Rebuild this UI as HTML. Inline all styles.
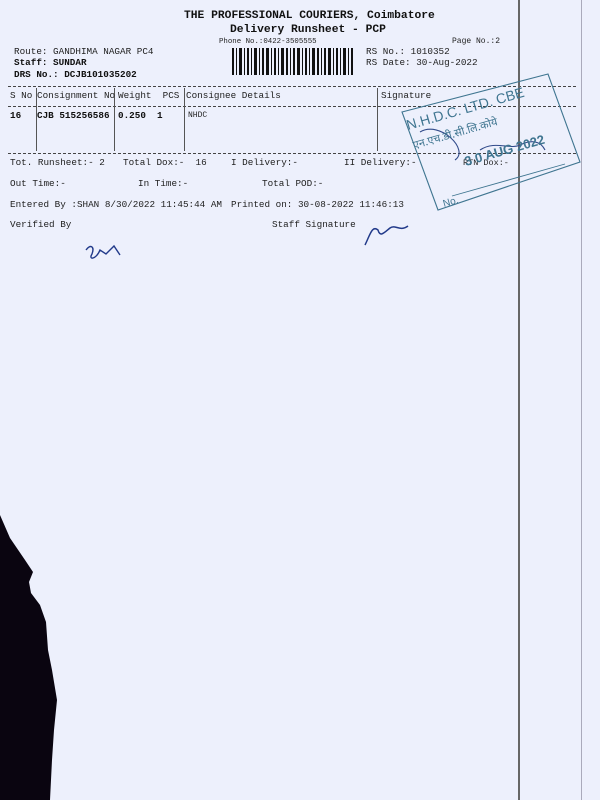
<!DOCTYPE html>
<html><head><meta charset="utf-8"><style>
html,body{margin:0;padding:0}
body{width:600px;height:800px;background:#edf0fc;position:relative;overflow:hidden;font-family:"Liberation Mono",monospace;color:#222}
.t{position:absolute;white-space:pre;font-size:9.3px;line-height:12px}
.b{font-weight:bold;color:#111}
.h{font-size:11.3px;line-height:14px}
.d{position:absolute;left:8px;width:568px;border-top:1px dashed #444;height:0}
.v{position:absolute;top:88px;height:63px;border-left:1px solid #555;width:0}
</style></head><body>
<div class="t b h" style="left:184px;top:9px">THE PROFESSIONAL COURIERS, Coimbatore</div>
<div class="t b h" style="left:230px;top:23px">Delivery Runsheet - PCP</div>
<div class="t" style="left:219px;top:36px;font-size:7.4px">Phone No.:0422-3505555</div>
<div class="t" style="left:452px;top:36px;font-size:8px">Page No.:2</div>
<div class="t" style="left:14px;top:46px">Route: GANDHIMA NAGAR PC4</div>
<div class="t b" style="left:14px;top:57px">Staff: SUNDAR</div>
<div class="t b" style="left:14px;top:69px">DRS No.: DCJB101035202</div>
<div class="t" style="left:366px;top:46px">RS No.: 1010352</div>
<div class="t" style="left:366px;top:57px">RS Date: 30-Aug-2022</div>
<svg style="position:absolute;left:232px;top:48px" width="122" height="27">
<g fill="#111">
<rect x="0" y="0" width="2" height="27"/><rect x="4" y="0" width="1" height="27"/><rect x="7" y="0" width="3" height="27"/><rect x="12" y="0" width="1" height="27"/><rect x="15" y="0" width="2" height="27"/><rect x="19" y="0" width="1" height="27"/><rect x="22" y="0" width="3" height="27"/><rect x="27" y="0" width="1" height="27"/><rect x="30" y="0" width="2" height="27"/><rect x="34" y="0" width="3" height="27"/><rect x="39" y="0" width="1" height="27"/><rect x="42" y="0" width="2" height="27"/><rect x="46" y="0" width="1" height="27"/><rect x="49" y="0" width="3" height="27"/><rect x="54" y="0" width="2" height="27"/><rect x="58" y="0" width="1" height="27"/><rect x="61" y="0" width="2" height="27"/><rect x="65" y="0" width="3" height="27"/><rect x="70" y="0" width="1" height="27"/><rect x="73" y="0" width="2" height="27"/><rect x="77" y="0" width="1" height="27"/><rect x="80" y="0" width="3" height="27"/><rect x="85" y="0" width="2" height="27"/><rect x="89" y="0" width="1" height="27"/><rect x="92" y="0" width="2" height="27"/><rect x="96" y="0" width="3" height="27"/><rect x="101" y="0" width="1" height="27"/><rect x="104" y="0" width="2" height="27"/><rect x="108" y="0" width="1" height="27"/><rect x="111" y="0" width="3" height="27"/><rect x="116" y="0" width="1" height="27"/><rect x="119" y="0" width="2" height="27"/>
</g></svg>
<div class="d" style="top:86px"></div>
<div class="d" style="top:106px"></div>
<div class="d" style="top:153px"></div>
<div class="v" style="left:36px"></div>
<div class="v" style="left:114px"></div>
<div class="v" style="left:184px"></div>
<div class="v" style="left:377px"></div>
<div class="t" style="left:10px;top:90px">S No</div>
<div class="t" style="left:37px;top:90px">Consignment No</div>
<div class="t" style="left:118px;top:90px">Weight  PCS</div>
<div class="t" style="left:186px;top:90px">Consignee Details</div>
<div class="t" style="left:381px;top:90px">Signature</div>
<div class="t b" style="left:10px;top:110px">16</div>
<div class="t b" style="left:37px;top:110px">CJB 515256586</div>
<div class="t b" style="left:118px;top:110px">0.250  1</div>
<div class="t" style="left:188px;top:110px;font-size:8px">NHDC</div>
<div class="t" style="left:10px;top:157px">Tot. Runsheet:- 2</div>
<div class="t" style="left:123px;top:157px">Total Dox:-  16</div>
<div class="t" style="left:231px;top:157px">I Delivery:-</div>
<div class="t" style="left:344px;top:157px">II Delivery:-</div>
<div class="t" style="left:463px;top:157px;font-size:8.5px">RTN Dox:-</div>
<div class="t" style="left:10px;top:178px">Out Time:-</div>
<div class="t" style="left:138px;top:178px">In Time:-</div>
<div class="t" style="left:262px;top:178px">Total POD:-</div>
<div class="t" style="left:10px;top:199px">Entered By :SHAN 8/30/2022 11:45:44 AM</div>
<div class="t" style="left:231px;top:199px">Printed on: 30-08-2022 11:46:13</div>
<div class="t" style="left:10px;top:219px">Verified By</div>
<div class="t" style="left:272px;top:219px">Staff Signature</div>
<div style="position:absolute;left:518px;top:0;width:2px;height:800px;background:#666"></div>
<div style="position:absolute;left:581px;top:0;width:1px;height:800px;background:#aab"></div>
<svg style="position:absolute;left:0;top:0" width="600" height="800">
<g fill="none" stroke="#3f7590" stroke-width="1.1">
<polygon points="402,112 548,74 580,162 438,210"/>
<path d="M452 196 L565 164" stroke-width="0.9"/>
<path d="M420 132 C440 120 470 150 455 160 M480 150 C495 140 510 150 520 145 C530 140 540 140 545 150" stroke="#304a8a"/>
<path d="M365 245 C370 235 372 225 378 230 C380 238 385 232 390 228 C395 224 400 232 408 226" stroke="#223a8a" stroke-width="1.5"/>
<path d="M86 250 C90 244 95 246 92 254 C88 260 96 260 100 250 L106 254 L114 246 L120 255" stroke="#223a8a" stroke-width="1.4"/>
</g>
<g fill="#3f7590" font-family="Liberation Sans, sans-serif">
<text x="408" y="130" font-size="14" transform="rotate(-16 408 130)">N.H.D.C. LTD. CBE</text>
<text x="414" y="149" font-size="11" font-family="Noto Sans CJK SC, sans-serif" transform="rotate(-16 414 149)">एन.एच.डी.सी.लि.कोये</text>
<text x="466" y="166" font-size="13" font-weight="bold" transform="rotate(-16 466 166)">3 0 AUG 2022</text>
<text x="444" y="207" font-size="10" transform="rotate(-16 444 207)">No.</text>
</g>
<polygon fill="#0a0510" points="0,515 10,538 25,560 33,572 29,582 31,593 40,605 46,622 48,650 52,670 57,700 54,730 52,760 50,800 0,800"/>
</svg>
</body></html>
